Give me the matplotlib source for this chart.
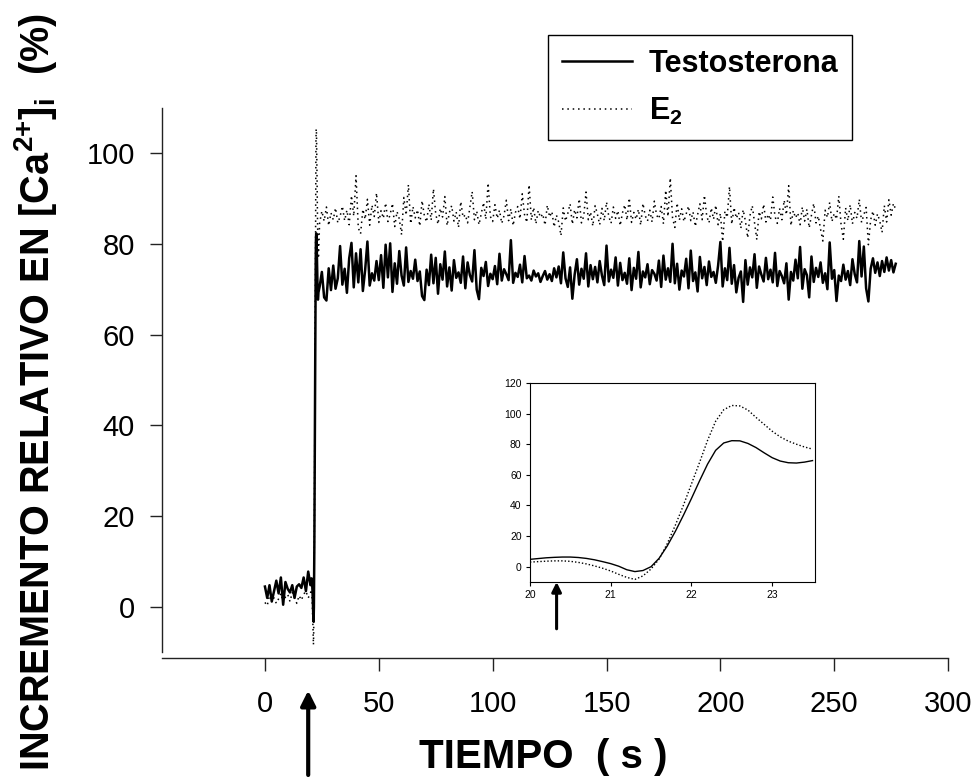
import numpy as np
import matplotlib
matplotlib.use("Agg")
import matplotlib.pyplot as plt

plt.rcParams['font.family'] = ['Liberation Sans', 'DejaVu Sans']
plt.rcParams['mathtext.fontset'] = 'custom'
plt.rcParams['mathtext.rm'] = 'Liberation Sans'
plt.rcParams['mathtext.bf'] = 'Liberation Sans:bold'

# basal period, 1 s sampling (t = 0..19 s)
t_pre = np.arange(0, 20)
testo_pre = [4.5, 2.0, 4.8, 1.2, 3.5, 5.8, 3.0, 6.5, 0.5, 5.5,
             4.0, 3.2, 4.8, 2.0, 4.5, 5.0, 4.2, 6.5, 3.5, 7.8]
e2_pre = [1.0, 0.3, 2.5, 1.5, 2.0, 0.8, 1.8, 3.0, 1.0, 2.2,
          2.8, 1.2, 3.2, 2.0, 0.8, 2.5, 1.5, 2.8, 3.5, 2.0]

# rise after the stimulus, 0.1 s sampling (t = 20.0..23.5 s)
t_rise = np.round(np.arange(20.0, 23.55, 0.1), 1)
testo_rise = [4.8, 5.3, 5.8, 6.1, 6.3, 6.3, 6.0, 5.4, 4.5, 3.3,
              2.0, 0.3, -2.0, -3.2, -2.5, 0.0, 5.5, 13.5, 23.0, 33.5,
              44.5, 56.0, 67.0, 76.0, 80.8, 82.3, 82.2, 80.5, 77.8, 74.4,
              71.2, 69.0, 67.9, 67.7, 68.3, 69.3]
e2_rise = [3.0, 3.3, 3.6, 3.8, 3.8, 3.5, 2.8, 1.8, 0.5, -1.0,
           -2.8, -5.0, -7.0, -8.3, -6.0, -1.5, 5.0, 15.0, 27.0, 40.0,
           54.0, 68.0, 82.5, 95.0, 102.5, 105.3, 105.0, 102.3, 97.5, 93.0,
           88.5, 84.8, 82.0, 80.0, 78.2, 76.8]

# plateau, 1 s sampling (t = 24..277 s)
t_post = np.arange(24, 278)
testo_post = [
    70.5, 73.8, 68.2, 67.5, 74.6, 69.8, 75.2, 70.1, 72.4, 79.5,
    71.0, 74.5, 69.2, 76.8, 80.2, 70.4, 77.9, 71.5, 78.8, 69.6,
    74.2, 80.5, 70.8, 73.5, 71.9, 76.2, 72.0, 77.5, 70.3, 79.8,
    72.6, 80.1, 69.4, 75.7, 71.2, 78.4, 73.0, 70.8, 79.2, 71.6,
    74.0, 72.3, 76.5, 71.8, 73.9, 68.5, 67.6, 74.3, 70.9, 77.6,
    71.3, 76.9, 69.0, 75.5, 72.1, 78.3, 70.6, 74.8, 69.7, 76.4,
    72.5, 73.7, 71.4, 77.2, 70.2, 75.9, 73.1, 71.7, 78.6, 69.9,
    67.8, 74.7, 72.9, 76.0, 70.7, 73.4, 72.2, 75.1, 71.1, 77.8,
    71.9, 74.4, 73.3, 72.0, 80.8, 71.4, 73.6, 72.7, 75.4, 71.5,
    77.3, 72.4, 73.0, 71.9, 74.1, 72.8, 73.5, 71.6, 72.9, 74.0,
    72.1, 73.3, 71.8, 74.6, 72.6, 75.0, 71.3, 78.1, 72.4, 70.5,
    74.8, 67.9, 73.2, 76.6, 71.0, 74.5, 72.3, 77.9, 70.6, 75.3,
    72.2, 74.9, 71.5, 76.2, 73.0, 70.9, 79.6, 71.7, 74.3, 72.5,
    77.0, 70.8, 75.8, 72.0, 73.6, 71.2, 76.8, 69.8, 74.7, 72.3,
    78.2, 70.4, 73.9, 72.6, 75.5, 71.1, 74.2, 73.4, 71.9, 76.3,
    70.5, 77.4, 72.1, 74.6, 71.6, 80.0, 71.3, 75.6, 69.9, 74.1,
    72.8, 76.7, 70.2, 78.5, 71.8, 73.7, 69.5, 77.1, 72.4, 74.9,
    70.9, 76.1, 72.7, 73.8, 71.4, 75.2, 80.4, 70.6, 74.6, 72.0,
    79.1, 71.2, 75.3, 69.3, 72.5, 73.9, 67.2, 76.4, 71.0, 74.8,
    72.6, 77.7, 70.3, 75.0, 73.2, 71.7, 76.9, 72.2, 74.3, 71.5,
    78.0, 70.7, 74.0, 72.9, 71.3, 75.7, 67.7, 73.8, 71.9, 76.5,
    72.4, 79.3, 70.1, 74.4, 73.1, 68.2, 77.2, 71.6, 74.7, 72.7,
    75.9, 71.4, 73.5, 70.0, 80.3, 72.3, 74.2, 67.4, 73.0, 71.8,
    75.4, 72.1, 74.0, 70.9, 76.6, 73.3, 71.5, 80.6, 72.8, 79.4,
    70.2, 67.3, 74.5, 76.8, 73.6, 75.9, 72.9, 76.2, 73.8, 77.0,
    74.1, 76.4, 73.7, 75.6]
e2_post = [
    84.5, 87.2, 85.0, 88.1, 84.0, 86.8, 85.3, 87.9, 84.6, 86.0,
    88.3, 85.1, 87.4, 84.2, 90.6, 86.1, 95.0, 83.5, 82.2, 87.6,
    85.4, 89.8, 84.1, 88.5, 86.0, 91.2, 84.7, 87.3, 85.6, 89.0,
    84.9, 86.5, 88.9, 83.8, 87.1, 85.5, 82.0, 90.2, 86.3, 93.0,
    84.4, 88.2, 85.7, 87.5, 83.9, 89.5, 86.2, 84.8, 88.7, 85.2,
    92.1, 86.6, 84.3, 87.8, 85.9, 90.4, 84.0, 86.9, 88.4, 85.0,
    87.0, 83.6, 89.3, 85.8, 86.4, 84.6, 88.0, 91.5, 85.3, 87.2,
    84.2, 86.7, 89.1, 85.4, 93.4, 86.0, 84.9, 88.6, 85.6, 87.4,
    84.5, 86.2, 89.6, 85.1, 87.7, 84.0, 86.9, 88.2, 85.5, 91.0,
    86.4, 84.7, 93.0, 85.2, 88.0, 84.4, 87.3, 85.8, 86.6, 84.1,
    88.5, 85.9, 87.1, 83.7, 86.3, 84.8, 81.8, 87.9, 85.0, 86.7,
    88.8, 84.3, 87.5, 85.7, 89.9, 84.6, 86.1, 91.4, 85.3, 87.0,
    83.9, 88.4, 86.5, 84.2, 87.8, 85.1, 89.2, 86.0, 84.5, 88.1,
    85.6, 87.3, 84.0, 86.8, 88.6, 85.2, 90.1, 84.7, 86.9, 85.4,
    87.6, 84.1, 88.9, 86.2, 85.0, 87.4, 84.8, 89.4, 86.3, 85.5,
    88.2, 84.4, 91.8, 86.0, 94.5, 85.7, 83.6, 89.0, 85.2, 87.7,
    84.9, 86.6, 88.3, 85.1, 87.0, 83.8, 86.4, 88.8, 85.3, 90.7,
    86.1, 84.6, 87.9, 85.4, 88.5, 84.2, 86.7, 80.5, 87.2, 85.8,
    92.6, 84.3, 88.0, 85.6, 86.9, 83.4, 87.5, 85.0, 81.3, 86.2,
    88.4, 84.7, 80.9, 87.1, 85.5, 88.7, 84.8, 86.5, 85.2, 90.3,
    86.0, 84.5, 87.8, 85.3, 89.6, 86.4, 92.8, 84.0, 87.3, 85.7,
    86.8, 84.2, 88.1, 85.0, 87.6, 83.5, 86.3, 88.9, 84.6, 86.1,
    83.2, 80.6, 87.4, 85.8, 89.1, 84.9, 86.7, 85.4, 90.5, 84.3,
    81.0, 87.9, 85.1, 88.6, 84.4, 86.9, 85.6, 89.8, 84.7, 86.4,
    88.0, 79.8, 85.3, 87.2, 84.1, 86.6, 85.0, 82.5, 88.4, 84.8,
    89.7, 86.3, 88.9, 87.5]

stim_main = 19.0   # arrow under main x axis
stim_inset = 20.33  # arrow under inset x axis

t_all = np.concatenate([t_pre, t_rise, t_post])
testo_all = np.concatenate([testo_pre, testo_rise, testo_post])
e2_all = np.concatenate([e2_pre, e2_rise, e2_post])

fig = plt.figure(figsize=(9.74, 7.83), dpi=100)
ax = fig.add_axes([0.1668, 0.1668, 0.8066, 0.6958])

l1, = ax.plot(t_all, testo_all, color='black', lw=1.8, label='Testosterona')
l2, = ax.plot(t_all, e2_all, color='black', lw=1.1, linestyle=(0, (1, 2.5)),
              label=r'E$_\mathbf{2}$')

ax.set_xlim(-45, 300)
ax.set_ylim(-10, 110)
ax.set_xticks(np.arange(0, 301, 50))
ax.set_yticks(np.arange(0, 101, 20))
ax.spines['top'].set_visible(False)
ax.spines['right'].set_visible(False)
ax.spines['bottom'].set_position(('outward', 4))
for s in ('left', 'bottom'):
    ax.spines[s].set_linewidth(1.0)
    ax.spines[s].set_color('#222222')
ax.tick_params(axis='both', direction='out', length=9, width=1.0,
               color='#222222', labelsize=21)
ax.tick_params(axis='y', pad=11)
ax.tick_params(axis='x', pad=14)

ax.annotate('', xy=(stim_main, -0.07), xycoords=('data', 'axes fraction'),
            xytext=(stim_main, -0.225), textcoords=('data', 'axes fraction'),
            arrowprops=dict(arrowstyle='-|>', lw=3, color='black',
                            mutation_scale=22, shrinkA=0, shrinkB=0),
            annotation_clip=False)

leg = ax.legend(handles=[l1, l2], loc='upper left',
                bbox_to_anchor=(0.5626, 0.9553), bbox_transform=fig.transFigure,
                prop={'weight': 'bold', 'size': 22}, frameon=True, fancybox=False,
                edgecolor='black', framealpha=1, handlelength=2.3,
                handletextpad=0.55, borderpad=0.45, labelspacing=0.55,
                borderaxespad=0)
leg.get_frame().set_linewidth(1.0)

fig.text(0.036, 0.4994,
         r'INCREMENTO RELATIVO EN [Ca$^{\mathbf{2}{\mathbf{+}}}$]$_\mathbf{i}$  (%)',
         rotation=90, ha='center', va='center', fontsize=28.5, fontweight='bold')
fig.text(0.5575, 0.0332, 'TIEMPO  ( s )', ha='center', va='center',
         fontsize=29, fontweight='bold')

# inset: detail of the rise
ins = fig.add_axes([0.5441, 0.2567, 0.2926, 0.2542])
ins.plot(t_rise, testo_rise, color='black', lw=1.0)
ins.plot(t_rise, e2_rise, color='black', lw=1.0, linestyle=(0, (1, 1.5)))
ins.set_xlim(20, 23.53)
ins.set_ylim(-10, 120)
ins.set_xticks([20, 21, 22, 23])
ins.set_yticks(np.arange(0, 121, 20))
for s in ins.spines.values():
    s.set_linewidth(0.8)
ins.tick_params(axis='both', direction='out', length=3, width=0.8,
                labelsize=7.5, pad=3)
ins.annotate('', xy=(stim_inset, 0.0), xycoords=('data', 'axes fraction'),
             xytext=(stim_inset, -0.235), textcoords=('data', 'axes fraction'),
             arrowprops=dict(arrowstyle='-|>', lw=2.2, color='black',
                             mutation_scale=14, shrinkA=0, shrinkB=0),
             annotation_clip=False)

fig.savefig('out.png', dpi=100)
